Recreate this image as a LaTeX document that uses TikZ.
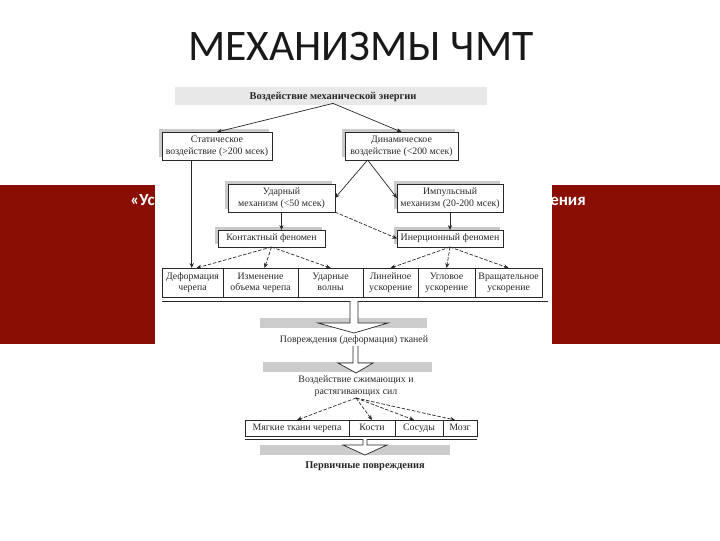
\documentclass[tikz,border=0pt]{standalone}
\usepackage{fontspec}
\setmainfont{Liberation Serif}
\newfontfamily\slidefont{Carlito}
\usetikzlibrary{arrows.meta, positioning, calc, shadows}
\definecolor{bandred}{RGB}{139,14,4}
\definecolor{scanink}{RGB}{40,40,40}

\begin{document}
\begin{tikzpicture}[
  x=0.025cm, y=-0.025cm,
  box/.style={draw=scanink, fill=white, rectangle, align=center, inner sep=0pt, outer sep=0pt, font=\fontsize{7}{8.4}\selectfont, text=scanink,
    drop shadow={shadow xshift=-2.4pt, shadow yshift=2.4pt, fill=gray!70, opacity=.6}},
  cell/.style={draw=scanink, rectangle, align=center, inner sep=0pt, outer sep=0pt, font=\fontsize{7}{8.4}\selectfont, text=scanink},
  twoline/.style={cell, text height=13.4pt, text depth=1.4pt, minimum height=0.725cm},
  oneline/.style={cell, text height=5pt, text depth=1pt, minimum height=0.4cm},
  label/.style={align=center, inner sep=1pt, font=\fontsize{7}{8.4}\selectfont, text=scanink},
  arrow/.style={->, draw=scanink, line width=0.5pt, >={Stealth[length=3.5pt, width=3pt]}},
  dasharrow/.style={arrow, dash pattern=on 2.5pt off 1.2pt},
  blockarrow/.style={draw=scanink, fill=white, line width=0.5pt},
  smear/.style={fill=gray!40},
  bandtext/.style={font=\slidefont\bfseries\fontsize{12}{14}\selectfont, text=white, inner sep=0pt}
]
\useasboundingbox (0,0) rectangle (720,540);

\node[font=\slidefont\fontsize{31}{36}\selectfont, text=black!90, anchor=base] (title) at (361,60) {МЕХАНИЗМЫ ЧМТ};

\fill[bandred] (0,185) rectangle (720,344);
\node[bandtext, anchor=base west] (bandl) at (130,205) {«Ус};
\node[bandtext, anchor=base west] (bandr) at (550,205) {ения};
\fill[white] (155,185) rectangle (552,344);

\fill[gray!18] (175,87) rectangle (487,105);
\node[label, font=\bfseries\fontsize{7.4}{9}\selectfont] (hdr) at (333,97) {Воздействие механической энергии};

\node[box, minimum width=2.75cm, minimum height=0.7cm] (stat) at (217,146) {Статическое\\воздействие (>200 мсек)};
\node[box, minimum width=2.825cm, minimum height=0.7cm] (din) at (401.5,146) {Динамическое\\воздействие (<200 мсек)};
\node[box, minimum width=2.675cm, minimum height=0.7cm] (udar) at (281.5,198) {Ударный\\механизм (<50 мсек)};
\node[box, minimum width=2.65cm, minimum height=0.7cm] (imp) at (450,198) {Импульсный\\механизм (20-200 мсек)};
\node[box, minimum width=2.675cm, minimum height=0.425cm] (kont) at (271.5,238.5) {Контактный феномен};
\node[box, minimum width=2.65cm, minimum height=0.425cm] (iner) at (450,238.5) {Инерционный феномен};

\node[twoline, minimum width=1.525cm, anchor=north west] (def) at (162,268) {Деформация\\черепа};
\node[twoline, minimum width=1.875cm] (izm) [right=0pt of def] {Изменение\\объема черепа};
\node[twoline, minimum width=1.625cm] (udv) [right=0pt of izm] {Ударные\\волны};
\node[twoline, minimum width=1.375cm] (lin) [right=0pt of udv] {Линейное\\ускорение};
\node[twoline, minimum width=1.425cm] (ugl) [right=0pt of lin] {Угловое\\ускорение};
\node[twoline, minimum width=1.675cm] (vra) [right=0pt of ugl] {Вращательное\\ускорение};
\draw[draw=scanink, line width=0.5pt] ($(def.south west)+(0,4)$) -- ($(vra.south east)+(6,4)$);

\fill[smear] (260,318) rectangle (427,328);
\draw[blockarrow] (350,301) -- (350,323) -- (318,323) -- (354,333) -- (388,323) -- (358,323) -- (358,301);
\node[label] (dmg) at (354,340) {Повреждения (деформация) тканей};

\fill[smear] (263,362) rectangle (432,372);
\draw[blockarrow] (353,346) -- (353,363) -- (338,363) -- (356,373) -- (373,363) -- (358,363) -- (358,346);
\node[label] (force) at (356,386) {Воздействие сжимающих и\\растягивающих сил};

\node[oneline, minimum width=2.6cm, anchor=north west] (myag) at (245,420) {Мягкие ткани черепа};
\node[oneline, minimum width=1.15cm] (kost) [right=0pt of myag] {Кости};
\node[oneline, minimum width=1.2cm] (sos) [right=0pt of kost] {Сосуды};
\node[oneline, minimum width=0.85cm] (mozg) [right=0pt of sos] {Мозг};
\draw[draw=scanink, line width=0.5pt] ($(myag.south west)+(0,3)$) -- ($(mozg.south east)+(0,3)$);

\fill[smear] (260,445) rectangle (450,455);
\draw[blockarrow] (363,439) -- (363,445) -- (343,445) -- (365,455) -- (387,445) -- (367,445) -- (367,439);
\node[label, font=\bfseries\fontsize{7.4}{9}\selectfont] (prim) at (365,466) {Первичные повреждения};

\coordinate (dinfoot) at ($(din.south west)!0.2!(din.south east)$);
\coordinate (statfoot) at ($(stat.south west)!0.27!(stat.south east)$);

\draw[arrow] (hdr.south) -- (stat.north);
\draw[arrow] (hdr.south) -- (din.north);
\draw[arrow] (dinfoot) -- (udar.east);
\draw[arrow] (dinfoot) -- (imp.west);
\draw[arrow] (udar.south) -- (udar.south |- kont.north);
\draw[dasharrow] (udar.south east) -- (iner.west);
\draw[arrow] (imp.south) -- (iner.north);
\draw[arrow] (statfoot) -- (statfoot |- def.north);
\draw[dasharrow] (kont.south) -- ($(def.north)+(4,0)$);
\draw[dasharrow] (kont.south) -- ($(izm.north)+(4,0)$);
\draw[dasharrow] (kont.south) -- (udv.north);
\draw[dasharrow] (iner.south) -- (lin.north);
\draw[dasharrow] (iner.south) -- (ugl.north);
\draw[dasharrow] (iner.south) -- (vra.north);
\draw[dasharrow] (force.south) -- (myag.north);
\draw[dasharrow] (force.south) -- (kost.north);
\draw[dasharrow] (force.south) -- ($(sos.north)+(-5,0)$);
\draw[dasharrow] (force.south) -- ($(mozg.north)+(-5,0)$);
\end{tikzpicture}
\end{document}
